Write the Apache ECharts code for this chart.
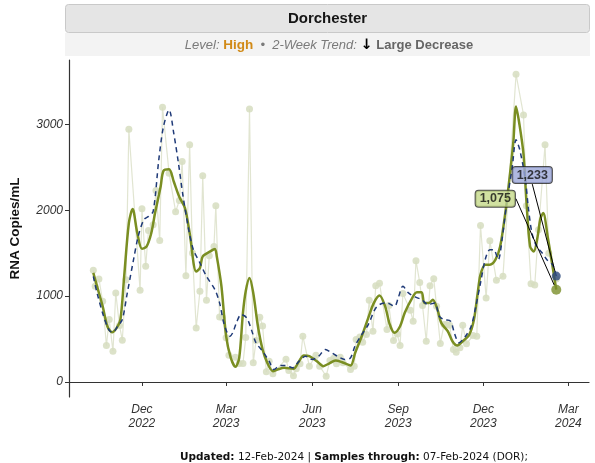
<!DOCTYPE html>
<html>
<head>
<meta charset="utf-8">
<script src="https://cdn.jsdelivr.net/npm/echarts@6/dist/echarts.min.js"></script>
<style>
html,body{margin:0;padding:0;background:#fff;}
#chart{width:595px;height:463px;}
</style>
</head>
<body>
<div id="chart"></div>
<script>
// Sample dates as days after 2022-12-01
const rawDay = [-52,-50,-46,-42,-38,-35,-31,-28,-24,-21,-17,-14,-2,0,4,7,12,15,19,22,29,36,40,43,47,51,54,58,62,65,69,72,77,79,83,86,90,93,100,104,108,111,115,119,122,126,129,133,136,140,154,157,162,165,169,172,179,186,190,197,201,205,208,212,215,223,227,229,233,236,240,243,247,250,254,262,264,269,273,276,279,287,290,293,297,300,304,308,312,315,319,323,326,329,333,336,340,343,347,354,358,362,368,372,379,386,400,408,411,416,420,424,431,435,443];
const rawVal = [1300,1114,1200,940,424,727,358,1037,657,486,1192,2944,1067,2017,1347,1765,1831,2231,1649,3200,2432,1983,2115,2567,1238,2762,1502,630,1056,2401,951,1471,1579,2052,758,753,514,310,288,215,215,517,3180,223,482,755,653,118,242,95,266,134,72,153,212,533,184,312,184,67,250,275,213,288,223,145,184,494,523,463,552,951,591,1122,1150,610,890,482,558,426,1029,835,707,1413,1160,890,475,1122,1203,881,448,669,669,660,378,347,398,660,444,541,533,1823,979,1645,1184,1230,3584,3110,2052,1145,1130,1773,2762,1500,1200];

const smoothDay = [-52,-48,-42,-37,-32,-27,-23,-19,-14,-10,-5,0,5,10,14,20,23,29,34,40,46,51,58,62,65,73,78,80,85,90,95,100,104,108,111,115,119,124,129,134,140,145,152,162,168,173,179,187,194,200,207,214,223,228,235,242,248,254,260,265,270,276,281,288,294,299,302,307,311,316,320,327,332,337,343,350,355,359,362,367,372,378,383,388,392,397,400,404,408,411,415,419,423,426,429,434,439,443];
const smoothVal = [1270,1114,881,649,579,630,727,1230,1851,2014,1735,1552,1579,1735,1967,2277,2459,2479,2335,2154,2026,1735,1288,1328,1463,1521,1549,1463,1114,533,281,177,281,805,1060,1211,1037,649,378,223,126,145,165,153,242,308,300,242,184,215,250,230,192,340,533,747,921,1006,881,669,572,649,805,959,1044,1044,921,921,959,843,688,591,474,424,474,552,727,1037,1250,1366,1366,1424,1579,1928,2277,2781,3207,2974,2650,2122,1579,1520,1690,1900,1967,1680,1347,1075];

const trendDay = [-52,-48,-41,-35,-31,-26,-21,-16,-9,-4,2,7,12,18,23,29,34,39,44,50,55,62,69,78,83,88,94,97,101,106,112,117,122,129,136,141,148,154,161,168,175,182,189,196,203,210,217,223,228,235,242,249,254,262,270,274,279,285,292,299,306,313,318,323,330,334,339,346,352,357,362,367,372,376,381,385,390,396,400,404,410,413,417,422,428,433,439,443];
const trendVal = [1230,1037,765,602,579,649,727,1017,1424,1696,1890,1928,1986,2587,2974,3169,2898,2549,2160,1773,1541,1386,1230,1076,921,669,533,572,688,785,747,610,456,358,242,145,192,192,165,242,300,262,300,378,340,293,262,281,424,552,669,843,901,921,881,979,1114,1037,991,959,901,921,765,727,707,572,456,533,649,881,1153,1424,1541,1541,1424,1657,2084,2509,2820,2703,2355,2044,1735,1579,1502,1424,1366,1233];

const lastDay = 443;
const lastSmooth = 1075;
const lastTrend = 1233;

const tickDates = ['2022-12-01','2023-03-01','2023-06-01','2023-09-01','2023-12-01','2024-03-01'];
const monthNames = ['Jan','Feb','Mar','Apr','May','Jun','Jul','Aug','Sep','Oct','Nov','Dec'];
const yTicks = [0,1000,2000,3000];

const toTs = d => Date.UTC(2022, 11, 1 + d);
const isoTs = s => { const p = s.split('-'); return Date.UTC(+p[0], +p[1]-1, +p[2]); };
const pairs = (days, vals) => days.map((d,i) => [toTs(d), vals[i]]);
const tickTs = tickDates.map(isoTs);

const chart = echarts.init(document.getElementById('chart'), null, {renderer:'canvas'});
const FONT = 'Liberation Sans';

chart.setOption({
  animation: false,
  backgroundColor: '#ffffff',
  textStyle: {fontFamily: FONT},
  grid: {left: 65, right: 6, top: 60, bottom: 66, containLabel: false},
  xAxis: {
    type: 'value',
    min: toTs(-78), max: toTs(478),
    axisLine: {show: true, lineStyle: {color: '#333', width: 1.2}},
    axisTick: {show: true, customValues: tickTs, length: 4, lineStyle: {color: '#333'}},
    axisLabel: {
      customValues: tickTs, margin: 6,
      fontStyle: 'italic', fontSize: 12, color: '#333', lineHeight: 14, fontFamily: FONT,
      formatter: v => { const d = new Date(v); return monthNames[d.getUTCMonth()] + '\n' + d.getUTCFullYear(); }
    },
    splitLine: {show: false}
  },
  yAxis: {
    type: 'value', min: -175, max: 3750,
    name: 'RNA Copies/mL', nameLocation: 'middle', nameGap: 47,
    nameTextStyle: {fontWeight: 'bold', fontSize: 13.5, color: '#111', fontFamily: FONT},
    axisLine: {show: true, lineStyle: {color: '#333', width: 1.2}},
    axisTick: {show: true, customValues: yTicks, length: 4, lineStyle: {color: '#333'}},
    axisLabel: {customValues: yTicks, margin: 6, fontStyle: 'italic', fontSize: 12, color: '#333', fontFamily: FONT,
      formatter: v => String(v)},
    splitLine: {show: false}
  },
  series: [
    {
      type: 'line', name: 'raw', data: pairs(rawDay, rawVal), z: 1,
      symbol: 'circle', symbolSize: 7,
      itemStyle: {color: 'rgba(214,221,192,0.85)'},
      lineStyle: {color: 'rgba(222,226,204,0.9)', width: 1.2}
    },
    {
      type: 'line', name: 'smooth', data: pairs(smoothDay, smoothVal), z: 2,
      symbol: 'none', smooth: 0.3,
      lineStyle: {color: '#7a8e22', width: 2.5}
    },
    {
      type: 'line', name: 'trend', data: pairs(trendDay, trendVal), z: 3,
      symbol: 'none', smooth: 0.3,
      lineStyle: {color: '#1f3a78', width: 1.5, type: [5, 4]}
    },
    {
      type: 'scatter', name: 'lastSmooth', z: 6,
      data: [[toTs(lastDay), lastSmooth]],
      symbolSize: 10, itemStyle: {color: '#7a8e2a'},
      label: {
        show: true, position: 'inside',
        formatter: p => p.value[1].toLocaleString('en-US'),
        backgroundColor: '#c6d98a', borderColor: '#222', borderWidth: 1, borderRadius: 3,
        padding: [2, 4, 1, 4], fontWeight: 'bold', fontSize: 12.5, color: '#111', fontFamily: FONT
      },
      labelLayout: {dx: -61, dy: -91},
      labelLine: {show: true, lineStyle: {color: '#000', width: 1}}
    },
    {
      type: 'scatter', name: 'lastTrend', z: 7,
      data: [[toTs(lastDay), lastTrend]],
      symbolSize: 9, itemStyle: {color: '#2d4a7c'},
      label: {
        show: true, position: 'inside',
        formatter: p => p.value[1].toLocaleString('en-US'),
        backgroundColor: '#9ba6d8', borderColor: '#222', borderWidth: 1, borderRadius: 3,
        padding: [2, 4, 1, 4], fontWeight: 'bold', fontSize: 12.5, color: '#111', fontFamily: FONT
      },
      labelLayout: {dx: -24, dy: -101},
      labelLine: {show: true, lineStyle: {color: '#000', width: 1}}
    }
  ],
  graphic: [
    {type: 'rect', z: -1, shape: {x: 65.5, y: 4.5, width: 524, height: 28, r: 3},
     style: {fill: '#e5e5e5', stroke: '#c9c9c9', lineWidth: 1}},
    {type: 'rect', z: -1, shape: {x: 65, y: 33, width: 525, height: 23},
     style: {fill: '#f3f3f3'}},
    {type: 'text', x: 327.5, y: 18.5,
     style: {text: 'Dorchester', align: 'center', verticalAlign: 'middle',
             font: 'bold 15px "Liberation Sans"', fill: '#151515'}},
    {type: 'text', x: 329, y: 45,
     style: {
       text: '{i|Level: }{h|High}{i|  •  2-Week Trend: }{a|↓}{b| Large Decrease}',
       align: 'center', verticalAlign: 'middle',
       rich: {
         i: {fontStyle: 'italic', fontSize: 13, fill: '#7a7a7a', fontFamily: FONT},
         h: {fontWeight: 'bold', fontSize: 13.5, fill: '#d18a17', fontFamily: FONT},
         a: {fontWeight: 'bold', fontSize: 14.5, fill: '#000', fontFamily: 'DejaVu Sans'},
         b: {fontWeight: 'bold', fontSize: 13, fill: '#666', fontFamily: FONT}
       }
     }},
    {type: 'text', x: 354, y: 457,
     style: {
       text: '{r|Updated:}{n| 12-Feb-2024 | }{r|Samples through:}{n| 07-Feb-2024 (DOR);}',
       align: 'center', verticalAlign: 'middle',
       rich: {
         r: {fontWeight: 'bold', fontSize: 10.5, fontFamily: 'DejaVu Sans', fill: '#111'},
         n: {fontSize: 10.5, fontFamily: 'DejaVu Sans', fill: '#111'}
       }
     }}
  ]
});
</script>
</body>
</html>
